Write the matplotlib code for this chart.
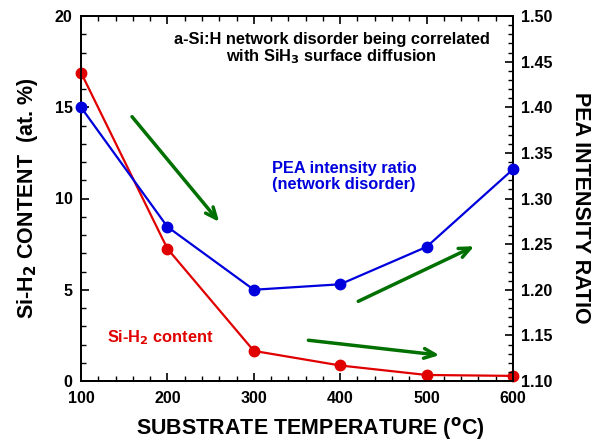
import matplotlib
matplotlib.use('Agg')
from matplotlib import pyplot as plt
from matplotlib.ticker import MultipleLocator

plt.rcParams['font.family'] = ['Liberation Sans', 'DejaVu Sans']
plt.rcParams['font.weight'] = 'bold'
plt.rcParams['axes.labelweight'] = 'bold'
plt.rcParams['mathtext.default'] = 'bf'

# data
temperature = [100, 200, 300, 400, 500, 600]
sih2_content = [16.9, 7.25, 1.65, 0.85, 0.33, 0.28]
pea_ratio = [1.40, 1.269, 1.200, 1.206, 1.247, 1.332]

# trend arrows (start, end) in left-axis data units
arrows = [((157, 14.6), (262, 8.6)),
          ((418, 4.3), (558, 7.45)),
          ((360, 2.25), (518, 1.4))]

fig = plt.figure(figsize=(5.95, 4.43), dpi=100)
ax = fig.add_axes([81 / 595, 1 - 381 / 443, 432 / 595, 365 / 443])
ax2 = ax.twinx()

ax.plot(temperature, sih2_content, color='#e00000', marker='o', markersize=7.5,
        linewidth=1.6, clip_on=False, zorder=5)
ax2.plot(temperature, pea_ratio, color='#0000dd', marker='o', markersize=7.5,
         linewidth=1.6, clip_on=False, zorder=5)

for (x0, y0), (x1, y1) in arrows:
    ax.annotate('', xy=(x1, y1), xytext=(x0, y0),
                arrowprops=dict(arrowstyle='->,head_length=0.8,head_width=0.35',
                                color='#007000', lw=2.5))

ax.set_xlim(100, 600)
ax.set_ylim(0, 20)
ax2.set_ylim(1.10, 1.50)

ax.xaxis.set_major_locator(MultipleLocator(100))
ax.xaxis.set_minor_locator(MultipleLocator(20))
ax.yaxis.set_major_locator(MultipleLocator(5))
ax.yaxis.set_minor_locator(MultipleLocator(1))
ax2.yaxis.set_major_locator(MultipleLocator(0.05))
ax2.yaxis.set_minor_locator(MultipleLocator(0.01))
ax2.yaxis.set_major_formatter(plt.FormatStrFormatter('%.2f'))

ax.tick_params(axis='x', which='both', direction='in', top=True, labelsize=11.5, pad=7)
ax.tick_params(axis='y', which='both', direction='in', labelsize=11.5, pad=6)
ax.tick_params(which='major', length=6, width=1.2)
ax.tick_params(which='minor', length=3.5, width=1)
ax2.tick_params(axis='y', which='both', direction='in', labelsize=11.5, pad=6)
ax2.tick_params(which='major', length=6, width=1.2)
ax2.tick_params(which='minor', length=3.5, width=1)
for a in (ax, ax2):
    for s in a.spines.values():
        s.set_linewidth(1.3)

ax.set_xlabel('SUBSTRATE TEMPERATURE ($^{\\mathbf{o}}$C)', fontsize=15.5,
              fontweight='bold')
ax.xaxis.set_label_coords(0.532, -0.093)
ax.set_ylabel('Si-H$_\\mathbf{2}$ CONTENT  (at. %)', fontsize=15.5,
              fontweight='bold')
ax.yaxis.set_label_coords(-0.095, 0.5)
ax2.set_ylabel('PEA INTENSITY RATIO', fontsize=15.5, fontweight='bold',
               rotation=-90, va='bottom')
ax2.yaxis.set_label_coords(1.132, 0.474)

ax.text(0.58, 0.955, 'a-Si:H network disorder being correlated\nwith SiH$_\\mathbf{3}$ surface diffusion',
        transform=ax.transAxes, ha='center', va='top', fontsize=11.8,
        fontweight='bold', linespacing=1.0)
ax.text(0.443, 0.56, 'PEA intensity ratio\n(network disorder)', transform=ax.transAxes,
        ha='left', va='center', color='#0000dd', fontsize=11.8, fontweight='bold',
        linespacing=1.05)
ax.text(0.06, 0.12, 'Si-H$_\\mathbf{2}$ content', transform=ax.transAxes,
        ha='left', va='center', color='#e00000', fontsize=11.8, fontweight='bold')

plt.savefig('out.png', dpi=100)
